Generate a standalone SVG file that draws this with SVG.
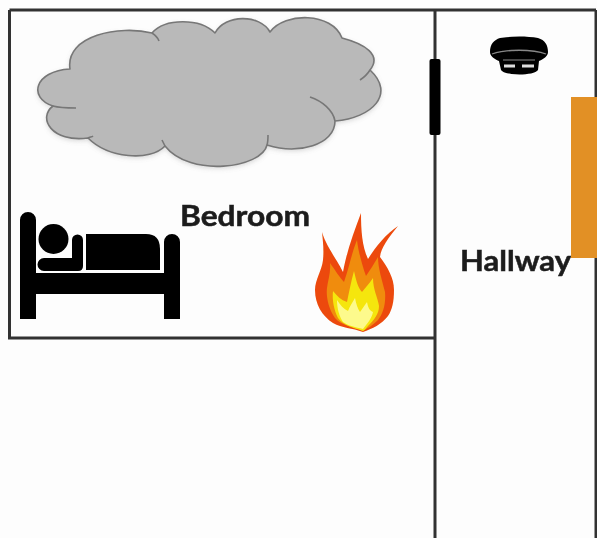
<svg xmlns="http://www.w3.org/2000/svg" width="597" height="538" viewBox="0 0 597 538">
<style>
.wall{fill:none;stroke:#333;stroke-width:3}
.lbl{font-family:"Lato","Open Sans","Liberation Sans",sans-serif;font-weight:700;font-size:28px;fill:#1c1c1c;stroke:#1c1c1c;stroke-width:0.5}
.k{fill:#000}
.cl{fill:none;stroke:#777;stroke-width:1.6}
</style>
<defs>
<filter id="b" x="-5%" y="-5%" width="110%" height="110%"><feGaussianBlur stdDeviation="0.7"/></filter>
<filter id="s" x="-10%" y="-10%" width="120%" height="130%"><feGaussianBlur stdDeviation="2.5"/></filter>
<path id="cloudShape" d="M70 69C34 71 28 98 53 106C37 118 52 143 88 138C108 158 150 162 165 146C190 178 262 168 267 145C298 155 335 145 335 121C372 118 396 94 370 70C382 55 365 44 342 38C332 12 285 12 270 32C260 14 225 14 215 33C200 18 165 18 152 33C120 25 65 35 70 69Z"/>
</defs>
<rect width="597" height="538" fill="#fdfdfd"/>
<g id="walls" filter="url(#b)">
<path class="wall" d="M9.500 10H596M9.500 10V338H435M435 10V538M596 10V538"/>
</g>
<g id="cloud" filter="url(#b)">
<use href="#cloudShape" fill="#999" opacity="0.4" y="2" filter="url(#s)"/>
<use href="#cloudShape" fill="#b9b9b9" stroke="#777" stroke-width="1.600" stroke-linejoin="round"/>
<path class="cl" d="M152 33C155 35 158 38 159 41M53 106C60 108 68 108 76 108M88 138C90 137 92 137 93 136M165 146C164 144 163 142 162 140M267 145C268 142 268 138 268 135M335 121C333 110 322 101 310 97M370 70C367 75 363 78 360 80"/>
</g>
<g id="door" filter="url(#b)"><rect class="k" x="429.500" y="59" width="11" height="76" rx="2"/></g>
<g id="detector" filter="url(#b)">
<path class="k" d="M490 52C490 44 494 40 500 38C512 36 527 36 538 38C545 40 548 45 548 52C548 56 544 59 539 61L538 70C534 76 505 76 501 70L499 61C494 59 490 56 490 52Z"/>
<path d="M492 54C505 49 533 49 546 54" fill="none" stroke="#888" stroke-width="1.300"/>
<path d="M504 66H515M522 66H534" fill="none" stroke="#ddd" stroke-width="3"/>
<path d="M503 60H535" fill="none" stroke="#888" stroke-width="1"/>
</g>
<g id="bed" filter="url(#b)">
<path class="k" d="M20 319V220A8 8 0 0 1 36 220V273H164V242A8 8 0 0 1 180 242V319H164V294H36V319Z"/>
<circle class="k" cx="53.500" cy="239" r="15"/>
<path class="k" d="M72 240A5.500 5.500 0 0 1 83 240V266Q83 271 78 271H44A6.500 6.500 0 0 1 44 258H72Z"/>
<path class="k" d="M86 234H146Q160 234 160 249V270H86Z"/>
</g>
<g id="fire" filter="url(#b)">
<path fill="#ec4a0a" d="M322 232C326 246 336 258 343 272C347 250 354 232 361 213C361 230 362 246 368 259C376 246 386 234 398 226C388 238 381 248 380 257C388 268 394 278 394 290C394 302 392 310 388 316C382 324 372 329 363 332C352 328 342 328 333 323C322 316 315 304 315 290C315 280 322 270 323 260C324 250 323 242 322 232Z"/>
<path fill="#f08c0c" d="M330 263C335 270 340 278 344 282C349 268 352 252 357 240C358 250 362 265 366 276C370 270 374 264 378 257C378 268 382 280 385 292C386 304 383 314 378 320C372 326 368 328 363 331C352 326 342 326 335 318C328 308 326 296 327 288C328 280 331 272 330 263Z"/>
<path fill="#f5e60d" d="M333 291C337 296 341 300 347 302C349 292 351 282 354 271C356 280 358 288 362 292C365 288 369 284 373 278C373 290 378 298 379 306C379 314 374 320 368 326C366 328 365 330 363 331C352 327 344 326 338 318C334 310 332 300 333 291Z"/>
<path fill="#fdfa8c" d="M337 300C340 305 344 309 348 311C350 306 352 303 355 298C356 304 358 309 360 312L367 302C368 308 370 311 373 312C372 318 367 324 363 329C356 327 348 326 343 322C339 316 337 308 337 300Z"/>
</g>
<g id="bedroom-label" filter="url(#b)"><text class="lbl" x="180" y="226" textLength="130" lengthAdjust="spacingAndGlyphs">Bedroom</text></g>
<g id="hallway-label" filter="url(#b)"><text class="lbl" x="460" y="271" textLength="111" lengthAdjust="spacingAndGlyphs">Hallway</text></g>
<rect id="orange-bar" x="571" y="97" width="26" height="161" fill="#e29025"/>
</svg>
